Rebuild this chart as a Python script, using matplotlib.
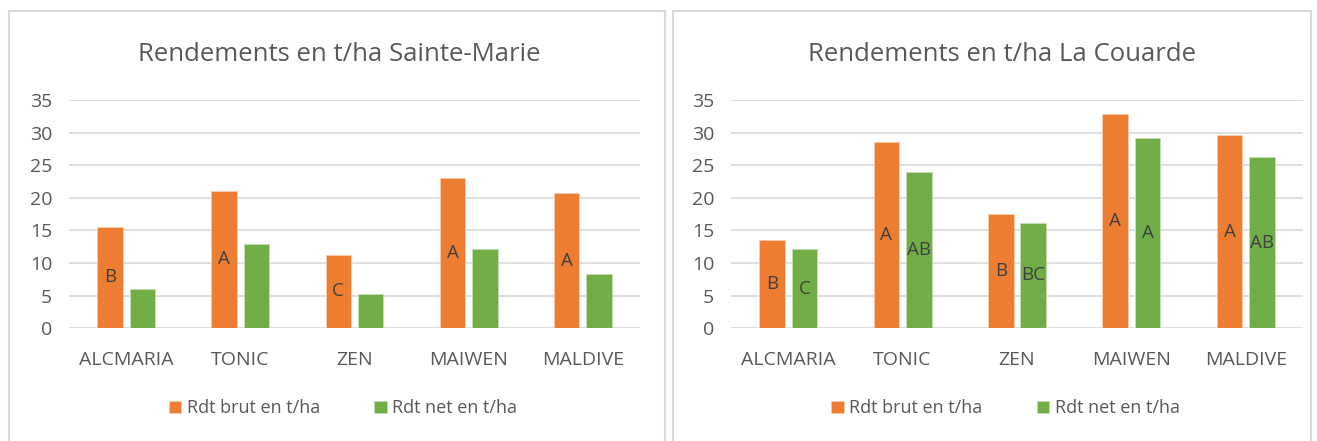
import numpy as np
import matplotlib
matplotlib.use("Agg")
import matplotlib.pyplot as plt
from matplotlib.patches import Rectangle

# data
varietes = ["ALCMARIA", "TONIC", "ZEN", "MAIWEN", "MALDIVE"]

sm_brut = [15.6, 21.1, 11.3, 23.0, 20.7]
sm_net = [6.0, 13.0, 5.3, 12.2, 8.3]
sm_lettres_brut = ["B", "A", "C", "A", "A"]
sm_lettres_net = ["", "", "", "", ""]

lc_brut = [13.5, 28.6, 17.5, 32.8, 29.6]
lc_net = [12.1, 24.0, 16.2, 29.2, 26.2]
lc_lettres_brut = ["B", "A", "B", "A", "A"]
lc_lettres_net = ["C", "AB", "BC", "A", "AB"]

titres = ["Rendements en t/ha Sainte-Marie", "Rendements en t/ha La Couarde"]
legende = ["Rdt brut en t/ha", "Rdt net en t/ha"]

ORANGE = "#ED7D31"
VERT = "#70AD47"
GRIS_TXT = "#595959"
GRILLE = "#D9D9D9"

plt.rcParams['font.family'] = ['Open Sans', 'DejaVu Sans']

fig = plt.figure(figsize=(13.17, 4.41), dpi=100)

# panel frames (figure pixels -> fraction)
W, H = 1317, 441
for x0, x1 in [(9, 665), (673, 1311)]:
    fig.patches.append(Rectangle((x0 / W, -0.01), (x1 - x0) / W, (H - 11) / H + 0.01,
                                 transform=fig.transFigure, fill=False,
                                 edgecolor=GRILLE, linewidth=1.5))

axes_pos = [[69 / W, 1 - 328.3 / H, 571 / W, 228.3 / H],
            [731 / W, 1 - 328.3 / H, 572 / W, 228.3 / H]]

jeux = [(sm_brut, sm_net, sm_lettres_brut, sm_lettres_net),
        (lc_brut, lc_net, lc_lettres_brut, lc_lettres_net)]

x = np.arange(len(varietes))
larg = 0.223
dec = 0.142

for pos, titre, (brut, net, lb, ln) in zip(axes_pos, titres, jeux):
    ax = fig.add_axes(pos)
    b1 = ax.bar(x - dec, brut, larg, color=ORANGE, edgecolor="#F8CBAD", linewidth=0.6,
                label=legende[0], zorder=3)
    b2 = ax.bar(x + dec, net, larg, color=VERT, edgecolor="#C5E0B4", linewidth=0.6,
                label=legende[1], zorder=3)
    ax.bar_label(b1, labels=lb, label_type="center", color="#404040", fontsize=13.5)
    ax.bar_label(b2, labels=ln, label_type="center", color="#404040", fontsize=13.5)

    ax.set_xlim(-0.5, len(varietes) - 0.5)
    ax.set_ylim(0, 35)
    ax.set_yticks(np.arange(0, 36, 5))
    ax.set_xticks(x)
    ax.set_xticklabels(varietes)
    ax.tick_params(axis="both", length=0, colors=GRIS_TXT, labelsize=14)
    ax.tick_params(axis="y", pad=12)
    ax.tick_params(axis="x", pad=16)
    ax.grid(axis="y", color=GRILLE, linewidth=1.2, zorder=0)
    for s in ax.spines.values():
        s.set_visible(False)
    ax.set_title(titre, fontsize=18.5, color=GRIS_TXT, pad=28, x=0.474)
    ax.legend(loc="center", bbox_to_anchor=(0.48, -0.35), ncol=2, frameon=False,
              fontsize=13, labelcolor=GRIS_TXT, handlelength=0.7, handleheight=0.7,
              handletextpad=0.3, columnspacing=3.0)

fig.savefig("out.png", dpi=100)
